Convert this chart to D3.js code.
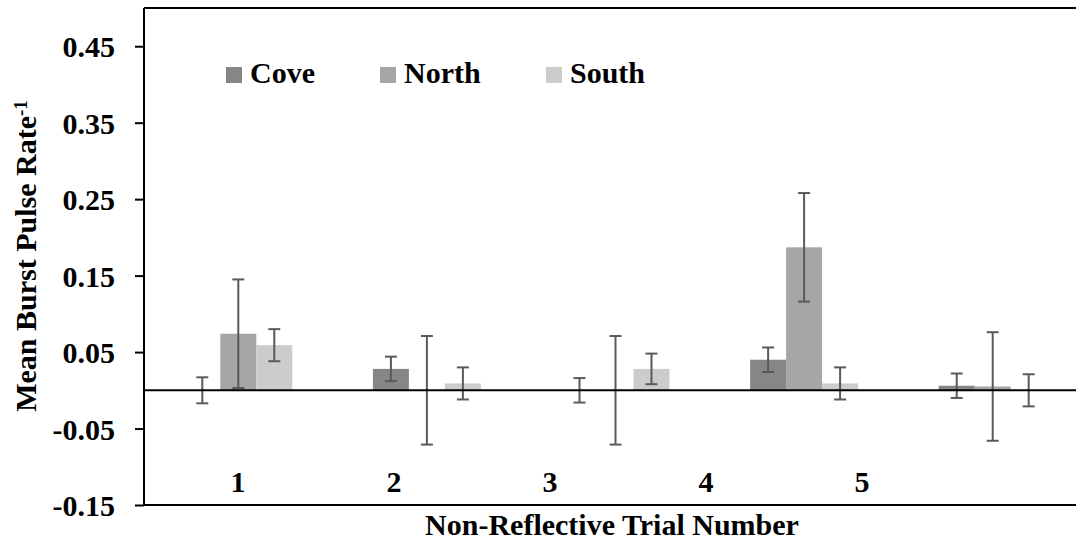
<!DOCTYPE html>
<html>
<head>
<meta charset="utf-8">
<script src="https://cdn.jsdelivr.net/npm/d3@7"></script>
<style>
  html, body { margin: 0; padding: 0; background: #fff; }
  svg { display: block; }
</style>
</head>
<body>
<svg id="chart" width="1076" height="546"></svg>
<script>
// Trial numbers and site series
const trials = ["1", "2", "3", "4", "5"];
const sites = ["Cove", "North", "South"];

// Mean burst pulse rate per trial, one array per site
const cove  = [0.000, 0.028, 0.000, 0.040, 0.006];
const north = [0.074, 0.000, 0.000, 0.187, 0.005];
const south = [0.059, 0.009, 0.028, 0.009, 0.000];

// Error bar half-widths per trial
const coveErr  = [0.017, 0.016, 0.016, 0.016, 0.016];
const northErr = [0.071, 0.071, 0.071, 0.071, 0.071];
const southErr = [0.021, 0.021, 0.020, 0.021, 0.021];

const yTicks = [-0.15, -0.05, 0.05, 0.15, 0.25, 0.35, 0.45];

const colors = { Cove: "#868686", North: "#a6a6a6", South: "#cccccc" };

const values = { Cove: cove, North: north, South: south };
const errors = { Cove: coveErr, North: northErr, South: southErr };

const FONT = "'Liberation Serif', Tinos, 'Noto Serif', 'Nimbus Roman', 'Nimbus Roman No9 L', FreeSerif, Times, 'Times New Roman', 'DejaVu Serif', serif";

const svg = d3.select("#chart")
  .style("font-family", FONT)
  .style("font-weight", "bold");
const W = 1076;
const plotLeft = 144, plotTop = 8, plotBottom = 505;

const y = d3.scaleLinear().domain([-0.15, 0.5]).range([plotBottom, plotTop]);
const x0 = d3.scaleBand().domain(trials).range([plotLeft, plotLeft + 5 * 188.6]).padding(0);
const x1 = d3.scaleBand().domain(sites).range([0, x0.bandwidth()]).paddingInner(0).paddingOuter(1.12);

// Category labels sit inside the plot, above the bottom frame
const xLabel = d3.scalePoint().domain(trials).range([238, 862]);

const rows = [];
trials.forEach((t, i) => {
  sites.forEach(s => rows.push({ trial: t, site: s, v: values[s][i], e: errors[s][i] }));
});

// Bars
svg.append("g").selectAll("rect").data(rows).join("rect")
  .attr("x", d => x0(d.trial) + x1(d.site))
  .attr("width", x1.bandwidth())
  .attr("y", d => y(Math.max(0, d.v)))
  .attr("height", d => Math.abs(y(d.v) - y(0)))
  .attr("fill", d => colors[d.site]);

// Error bars
const eb = svg.append("g").attr("stroke", "#5a5a5a").attr("stroke-width", 2).attr("fill", "none");
rows.forEach(d => {
  const cx = x0(d.trial) + x1(d.site) + x1.bandwidth() / 2;
  const y1 = y(d.v + d.e), y2 = y(d.v - d.e);
  eb.append("line").attr("x1", cx).attr("x2", cx).attr("y1", y1).attr("y2", y2);
  eb.append("line").attr("x1", cx - 6).attr("x2", cx + 6).attr("y1", y1).attr("y2", y1);
  eb.append("line").attr("x1", cx - 6).attr("x2", cx + 6).attr("y1", y2).attr("y2", y2);
});

// Zero line
svg.append("line")
  .attr("x1", plotLeft).attr("x2", W).attr("y1", y(0)).attr("y2", y(0))
  .attr("stroke", "#000").attr("stroke-width", 2);

// Frame: top, left, bottom
const frame = svg.append("g").attr("stroke", "#000").attr("stroke-width", 2);
frame.append("line").attr("x1", plotLeft).attr("x2", W).attr("y1", plotTop).attr("y2", plotTop);
frame.append("line").attr("x1", plotLeft).attr("x2", plotLeft).attr("y1", plotTop).attr("y2", plotBottom);
frame.append("line").attr("x1", plotLeft).attr("x2", W).attr("y1", plotBottom).attr("y2", plotBottom);

// Y axis (plain hyphen for negatives)
const fmt = d => d3.format(".2f")(d).replace("\u2212", "-");
const yAxis = svg.append("g").attr("transform", `translate(${plotLeft},0)`)
  .call(d3.axisLeft(y).tickValues(yTicks).tickSize(9).tickPadding(20).tickFormat(fmt));
yAxis.attr("font-family", null).attr("font-size", null);
yAxis.select(".domain").remove();
yAxis.selectAll(".tick line").attr("stroke", "#000").attr("stroke-width", 2);
yAxis.selectAll(".tick text")
  .style("font-family", FONT)
  .style("font-weight", "bold")
  .style("font-size", "30px")
  .attr("fill", "#000")
  .attr("dy", "0.35em");

// Trial labels
svg.append("g").selectAll("text").data(trials).join("text")
  .attr("x", d => xLabel(d))
  .attr("y", 492)
  .attr("text-anchor", "middle")
  .style("font-size", "30px")
  .text(d => d);

// Legend
const legendX = [226, 380, 546];
const lg = svg.append("g").selectAll("g").data(sites).join("g")
  .attr("transform", (d, i) => `translate(${legendX[i]},67)`);
lg.append("rect").attr("width", 16).attr("height", 16).attr("fill", d => colors[d]);
lg.append("text").attr("x", 24).attr("y", 16).style("font-size", "30px").text(d => d);

// Axis titles
svg.append("text")
  .attr("x", 612).attr("y", 535)
  .attr("text-anchor", "middle")
  .style("font-size", "30px")
  .text("Non-Reflective Trial Number");

const yt = svg.append("text")
  .attr("transform", "translate(36,256) rotate(-90)")
  .attr("text-anchor", "middle")
  .style("font-size", "30px");
yt.append("tspan").text("Mean Burst Pulse Rate");
yt.append("tspan").attr("dy", "-0.45em").style("font-size", "19px").text("-1");
</script>
</body>
</html>
